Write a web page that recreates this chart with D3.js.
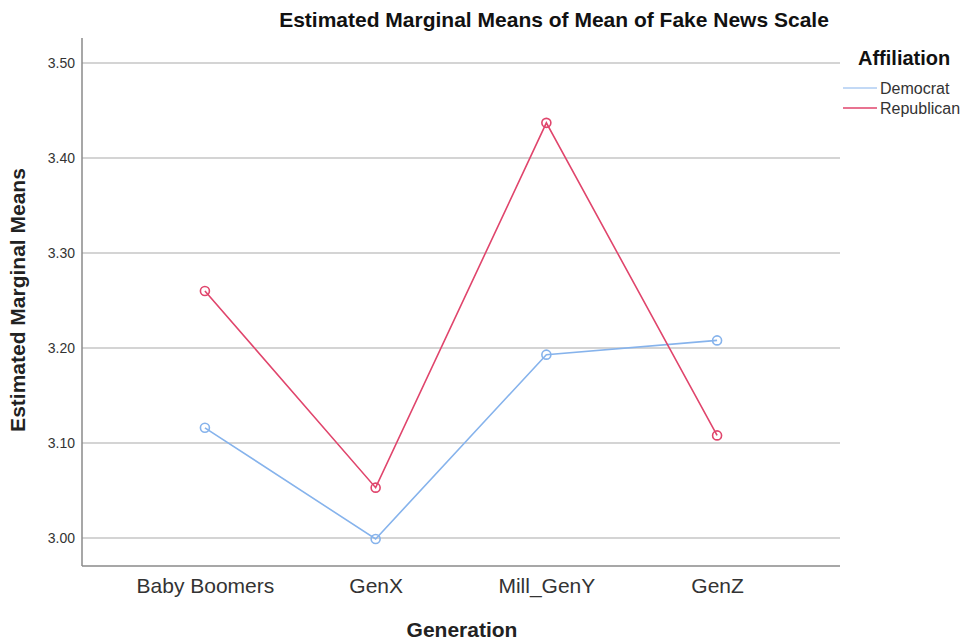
<!DOCTYPE html>
<html>
<head>
<meta charset="utf-8">
<script src="https://cdn.jsdelivr.net/npm/d3@7"></script>
<style>
  body { margin: 0; background: #fff; }
  text { font-family: Arial, "Liberation Sans", sans-serif; }
</style>
</head>
<body>
<svg width="973" height="642"></svg>
<script>
let width = 973;
let height = 642;

let generations = ['Baby Boomers', 'GenX', 'Mill_GenY', 'GenZ'];
let democrat = [3.116, 2.999, 3.193, 3.208];
let republican = [3.260, 3.053, 3.437, 3.108];
let yTicks = [3.00, 3.10, 3.20, 3.30, 3.40, 3.50];

let series = [
  { name: 'Democrat', values: democrat, color: '#86b3ec' },
  { name: 'Republican', values: republican, color: '#e0456c' }
];

let plotLeft = 82, plotRight = 840, plotTop = 38, plotBottom = 566;

let x = d3.scalePoint()
  .domain(generations)
  .range([plotLeft, plotRight])
  .padding(0.72);

let y = d3.scaleLinear()
  .domain([3.0, 3.5])
  .range([538, 63]);

let svg = d3.select('svg');

// gridlines
svg.append('g')
  .selectAll('line')
  .data(yTicks)
  .enter()
    .append('line')
    .attr('x1', plotLeft)
    .attr('x2', plotRight)
    .attr('y1', d => y(d))
    .attr('y2', d => y(d))
    .attr('stroke', '#c6c6c6')
    .attr('stroke-width', 1.5)
  ;

// y axis
let yAxis = svg.append('g')
  .attr('transform', `translate(${plotLeft},0)`)
  .call(d3.axisLeft(y).tickValues(yTicks).tickFormat(d3.format('.2f')).tickSize(0).tickPadding(7));
yAxis.select('.domain').remove();
yAxis.selectAll('text').attr('font-size', 14).attr('fill', '#333');

// x axis
let xAxis = svg.append('g')
  .attr('transform', `translate(0,${plotBottom})`)
  .call(d3.axisBottom(x).tickSize(0).tickPadding(12));
xAxis.select('.domain').remove();
xAxis.selectAll('text').attr('font-size', 21).attr('fill', '#333');

// axis lines
svg.append('line')
  .attr('x1', plotLeft).attr('x2', plotLeft)
  .attr('y1', plotTop).attr('y2', plotBottom)
  .attr('stroke', '#8a8a8a').attr('stroke-width', 1.5);
svg.append('line')
  .attr('x1', plotLeft).attr('x2', plotRight)
  .attr('y1', plotBottom).attr('y2', plotBottom)
  .attr('stroke', '#8a8a8a').attr('stroke-width', 1.5);

let line = d3.line()
  .x((d, i) => x(generations[i]))
  .y(d => y(d));

series.forEach(s => {
  svg.append('path')
    .datum(s.values)
    .attr('d', line)
    .attr('fill', 'none')
    .attr('stroke', s.color)
    .attr('stroke-width', 1.6);

  svg.append('g')
    .selectAll('circle')
    .data(s.values)
    .enter()
      .append('circle')
      .attr('cx', (d, i) => x(generations[i]))
      .attr('cy', d => y(d))
      .attr('r', 4.5)
      .attr('fill', 'none')
      .attr('stroke', s.color)
      .attr('stroke-width', 1.6)
    ;
});

// title
svg.append('text')
  .attr('x', 554).attr('y', 27)
  .attr('text-anchor', 'middle')
  .attr('font-size', 21).attr('font-weight', 'bold')
  .attr('fill', '#111')
  .text('Estimated Marginal Means of Mean of Fake News Scale');

// axis titles
svg.append('text')
  .attr('x', 462).attr('y', 637)
  .attr('text-anchor', 'middle')
  .attr('font-size', 21).attr('font-weight', 'bold')
  .attr('fill', '#222')
  .text('Generation');

svg.append('text')
  .attr('transform', 'translate(25,300) rotate(-90)')
  .attr('text-anchor', 'middle')
  .attr('font-size', 21).attr('font-weight', 'bold')
  .attr('fill', '#222')
  .text('Estimated Marginal Means');

// legend
svg.append('text')
  .attr('x', 858).attr('y', 65)
  .attr('font-size', 20).attr('font-weight', 'bold')
  .attr('fill', '#111')
  .text('Affiliation');

let legend = svg.append('g')
  .selectAll('g')
  .data(series)
  .enter()
    .append('g')
    .attr('transform', (d, i) => `translate(843,${88 + i * 20})`)
  ;
legend.append('line')
  .attr('x1', 0).attr('x2', 34)
  .attr('stroke', d => d.color)
  .attr('stroke-width', d => d.name === 'Democrat' ? 1 : 1.6);
legend.append('text')
  .attr('x', 37).attr('y', 6)
  .attr('font-size', 16)
  .attr('fill', '#333')
  .text(d => d.name);
</script>
</body>
</html>
